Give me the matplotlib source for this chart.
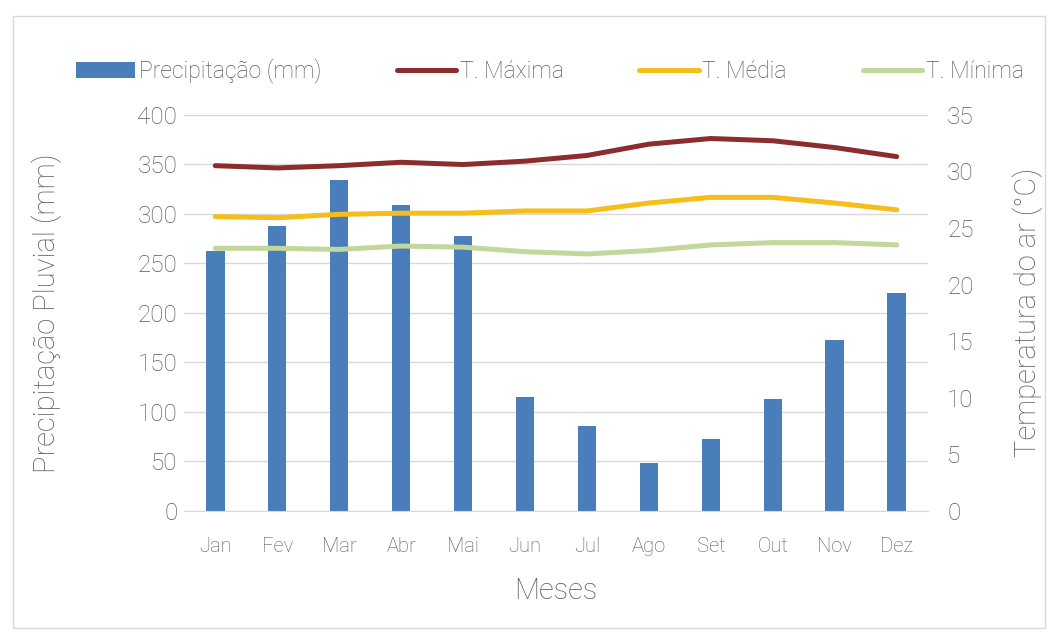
import numpy as np
import matplotlib.pyplot as plt
from matplotlib.patches import Rectangle

meses = ["Jan", "Fev", "Mar", "Abr", "Mai", "Jun", "Jul", "Ago", "Set", "Out", "Nov", "Dez"]
precipitacao = [262, 288, 334, 309, 278, 115, 86, 48, 73, 113, 173, 220]
t_maxima = [30.5, 30.3, 30.5, 30.8, 30.6, 30.9, 31.4, 32.4, 32.9, 32.7, 32.1, 31.3]
t_media = [26.0, 25.9, 26.2, 26.3, 26.3, 26.5, 26.5, 27.2, 27.7, 27.7, 27.2, 26.6]
t_minima = [23.2, 23.2, 23.1, 23.4, 23.3, 22.9, 22.7, 23.0, 23.5, 23.7, 23.7, 23.5]

plt.rcParams['font.family'] = ['Roboto', 'DejaVu Sans']
plt.rcParams['font.weight'] = 'light'
cinza = '#595959'

fig = plt.figure(figsize=(10.59, 6.41), dpi=100)
fig.patches.append(Rectangle((0.012, 0.02), 0.975, 0.955, transform=fig.transFigure,
                             fill=False, edgecolor='#d9d9d9', linewidth=1))

ax = fig.add_axes([0.174, 0.203, 0.702, 0.618])
x = np.arange(len(meses))
barras = ax.bar(x, precipitacao, width=0.3, color='#4a7ebb', zorder=2, label='Precipitação (mm)')
ax.set_xlim(-0.5, 11.5)
ax.set_ylim(0, 400)
ax.set_yticks(np.arange(0, 401, 50))
ax.grid(axis='y', color='#d9d9d9', linewidth=1, zorder=0)
ax.set_xticks(x)
ax.set_xticklabels(meses, fontsize=14.5, color=cinza, fontweight='light')
ax.tick_params(axis='y', labelsize=17.5, colors=cinza, length=0, pad=5)
ax.tick_params(axis='x', length=0, pad=19)
for s in ax.spines.values():
    s.set_visible(False)
ax.spines['bottom'].set_visible(True)
ax.spines['bottom'].set_color('#d9d9d9')
ax.set_ylabel('Precipitação Pluvial (mm)', fontsize=21, color=cinza, labelpad=54, fontweight='light')
ax.set_xlabel('Meses', fontsize=21, color=cinza, labelpad=15, fontweight='light')

ax2 = ax.twinx()
ax2.set_ylim(0, 35)
ax2.set_yticks(np.arange(0, 36, 5))
l1, = ax2.plot(x, t_maxima, color='#8c2d2d', linewidth=3.6, solid_capstyle='round', label='T. Máxima')
l2, = ax2.plot(x, t_media, color='#f5be1b', linewidth=3.6, solid_capstyle='round', label='T. Média')
l3, = ax2.plot(x, t_minima, color='#c3d69b', linewidth=3.6, solid_capstyle='round', label='T. Mínima')
ax2.tick_params(axis='y', labelsize=17.5, colors=cinza, length=0, pad=14)
for s in ax2.spines.values():
    s.set_visible(False)
ax2.set_ylabel('Temperatura do ar (°C)', fontsize=21, color=cinza, labelpad=28, fontweight='light')

fig.legend([barras, l1, l2, l3], ['Precipitação (mm)', 'T. Máxima', 'T. Média', 'T. Mínima'],
           loc='center', bbox_to_anchor=(0.519, 0.889), ncol=4, frameon=False,
           prop={'size': 16.5, 'weight': 'light'}, labelcolor=cinza,
           handlelength=2.6, handletextpad=0.15, columnspacing=3.3)

fig.savefig('out.png', dpi=100)
